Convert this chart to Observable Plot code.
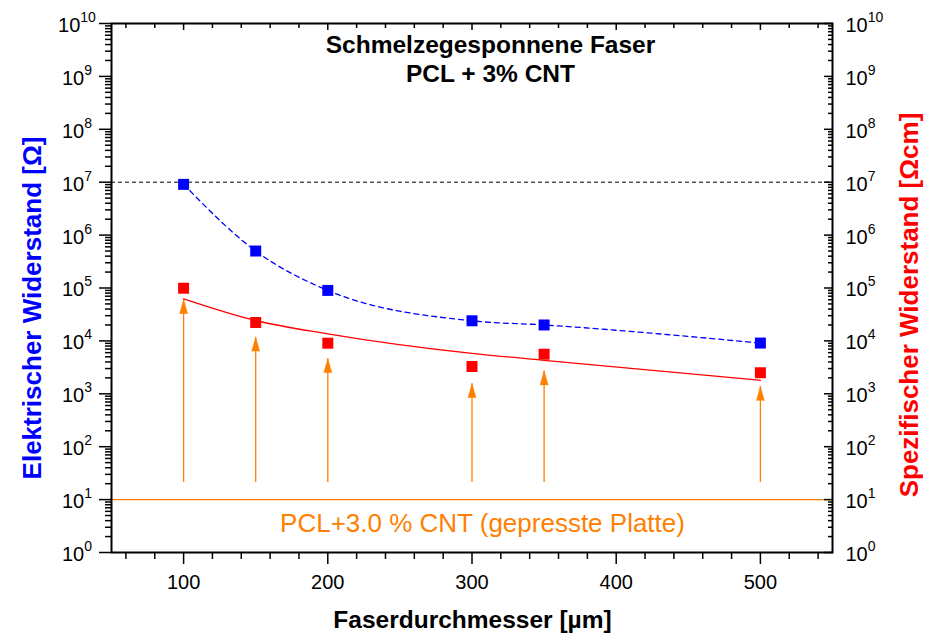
<!DOCTYPE html>
<html><head><meta charset="utf-8">
<script src="https://cdn.jsdelivr.net/npm/d3@7"></script>
<script src="https://cdn.jsdelivr.net/npm/@observablehq/plot@0.6"></script>
<style>body{margin:0;background:#fff}</style>
</head><body><div id="chart"></div>
<script>
// ---- data ----
const diameters = [100, 150, 200, 300, 350, 500];                 // Faserdurchmesser [µm]
const elektrischerWiderstand = [9.1e6, 5.0e5, 9.0e4, 2.4e4, 2.0e4, 9.1e3]; // Ω (blue)
const spezifischerWiderstand = [9.9e4, 2.23e4, 9.05e3, 3.28e3, 5.6e3, 2.5e3]; // Ωcm (red)
const fitSpezifisch = [6.25e4, 2.43e4, 1.36e4, 5.8e3, 4.3e3, 1.8e3];   // red fit curve
const arrowTips = [6.0e4, 1.17e4, 4.6e3, 1.55e3, 2.7e3, 1.37e3];       // orange arrow heads
const arrowBase = 21;
const plateValue = 10;          // PCL+3.0 % CNT (gepresste Platte)
const thresholdValue = 1e7;     // dashed black line
const xTickValues = [100, 200, 300, 400, 500];
const yTickValues = [1, 10, 1e2, 1e3, 1e4, 1e5, 1e6, 1e7, 1e8, 1e9, 1e10];
const titleLines = ["Schmelzegesponnene Faser", "PCL + 3% CNT"];
const plateLabel = "PCL+3.0 % CNT (gepresste Platte)";
const xTitle = "Faserdurchmesser [µm]";
const yLeftTitle = "Elektrischer Widerstand [Ω]";
const yRightTitle = "Spezifischer Widerstand [Ωcm]";

const xMinorTicks = d3.range(60, 550, 20).filter(d => d % 100 !== 0);
const yMinorTicks = yTickValues.slice(0, -1).flatMap(d => d3.range(2, 10).map(k => k * d));

const blue = "#0000ff", red = "#ff0000", orange = "#ff8000";
const font = "'Liberation Sans', Arial, sans-serif";

const rows = diameters.map((d, i) => ({
  d, el: elektrischerWiderstand[i], sp: spezifischerWiderstand[i],
  fit: fitSpezifisch[i], tip: arrowTips[i]
}));

const fmtPow = d => "10^" + Math.round(Math.log10(d));
const noText = () => "";

const chart = Plot.plot({
  width: 930, height: 635,
  marginLeft: 111, marginRight: 98, marginTop: 23, marginBottom: 83,
  style: {fontFamily: font, background: "#fff"},
  x: {domain: [50, 550], label: null},
  y: {type: "log", domain: [1, 1e10], label: null},
  marks: [
    // reference lines
    Plot.ruleY([thresholdValue], {stroke: "#000", strokeWidth: 1, strokeDasharray: "4,3"}),
    Plot.ruleY([plateValue], {stroke: orange, strokeWidth: 1.2}),
    // arrows
    Plot.ruleX(rows, {x: "d", y1: arrowBase, y2: "tip", stroke: orange, strokeWidth: 1.3}),
    Plot.vector(rows, {x: "d", y: "tip", length: 14, r: 4, shape: "spike", anchor: "end",
      fill: orange, stroke: orange, strokeWidth: 0.5}),
    // curves
    Plot.line(rows, {x: "d", y: "el", curve: "monotone-x", stroke: blue, strokeWidth: 1.3, strokeDasharray: "5,4"}),
    Plot.line(rows, {x: "d", y: "fit", curve: "monotone-x", stroke: red, strokeWidth: 1.3}),
    // points
    Plot.dot(rows, {x: "d", y: "el", symbol: "square", r: 6.2, fill: blue}),
    Plot.dot(rows, {x: "d", y: "sp", symbol: "square", r: 6.2, fill: red}),
    // frame
    Plot.frame({stroke: "#000", strokeWidth: 2}),
    // bottom axis
    Plot.axisX({anchor: "bottom", ticks: xMinorTicks, tickSize: 7, tickFormat: noText, strokeWidth: 1.5}),
    Plot.axisX({anchor: "bottom", ticks: xTickValues, tickSize: 12, tickPadding: 10, fontSize: 20, strokeWidth: 1.5, fill: "#000"}),
    // top axis (inward)
    Plot.axisX({anchor: "top", ticks: xMinorTicks, tickSize: -4, tickFormat: noText, strokeWidth: 1.5}),
    Plot.axisX({anchor: "top", ticks: xTickValues, tickSize: -6, tickFormat: noText, strokeWidth: 1.5}),
    // left axis (outward)
    Plot.axisY({anchor: "left", ticks: yMinorTicks, tickSize: 6, tickFormat: noText, strokeWidth: 1.5}),
    Plot.axisY({anchor: "left", ticks: yTickValues, tickSize: 12, tickFormat: noText, strokeWidth: 1.5}),
    Plot.axisY({anchor: "left", ticks: yTickValues, tickSize: 0, tickPadding: 34.5, textAnchor: "middle",
      tickFormat: fmtPow, fontSize: 20, dy: 2, fill: "#000"}),
    // right axis (inward)
    Plot.axisY({anchor: "right", ticks: yMinorTicks, tickSize: -5, tickFormat: noText, strokeWidth: 1.5}),
    Plot.axisY({anchor: "right", ticks: yTickValues, tickSize: -9, tickFormat: noText, strokeWidth: 1.5}),
    Plot.axisY({anchor: "right", ticks: yTickValues, tickSize: 0, tickPadding: 13, textAnchor: "start",
      tickFormat: fmtPow, fontSize: 20, dy: 2, fill: "#000"}),
    // titles
    Plot.text([titleLines[0]], {frameAnchor: "top", dx: 18.5, dy: 29, lineAnchor: "bottom",
      text: d => d, fontSize: 24.5, fontWeight: "bold", fill: "#000"}),
    Plot.text([titleLines[1]], {frameAnchor: "top", dx: 18.5, dy: 58, lineAnchor: "bottom",
      text: d => d, fontSize: 24.5, fontWeight: "bold", fill: "#000"}),
    Plot.text([plateLabel], {frameAnchor: "bottom", dx: 10.5, dy: -21, lineAnchor: "bottom",
      text: d => d, fontSize: 26, fill: orange}),
    Plot.text([xTitle], {frameAnchor: "bottom", dx: 0.5, dy: 75, lineAnchor: "bottom",
      text: d => d, fontSize: 24.5, fontWeight: "bold", fill: "#000"}),
    Plot.text([yLeftTitle], {frameAnchor: "left", dx: -71, dy: 20, rotate: -90, lineAnchor: "bottom",
      textAnchor: "middle", text: d => d, fontSize: 26, fontWeight: "bold", fill: blue}),
    Plot.text([yRightTitle], {frameAnchor: "right", dx: 85, dy: 17, rotate: -90, lineAnchor: "bottom",
      textAnchor: "middle", text: d => d, fontSize: 26, fontWeight: "bold", fill: red})
  ]
});

// render exponents as superscripts
d3.select(chart).selectAll("text").each(function () {
  const m = /^10\^(\d+)$/.exec(this.textContent);
  if (!m) return;
  const t = d3.select(this);
  t.text("");
  t.append("tspan").text("10");
  t.append("tspan").attr("dy", "-10").attr("font-size", 14).text(m[1]);
});

document.getElementById("chart").appendChild(chart);
</script>
</body></html>
